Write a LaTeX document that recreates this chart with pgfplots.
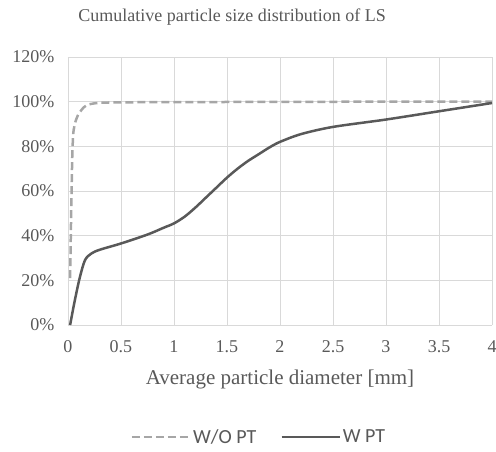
\documentclass[border=0pt]{standalone}
\usepackage{pgfplots}
\pgfplotsset{compat=1.18}
\usepackage{fontspec}
\setmainfont{Liberation Serif}
\newfontfamily\legfont{Carlito}
\definecolor{txt}{HTML}{595959}
\definecolor{gridc}{HTML}{D9D9D9}
\definecolor{wo}{HTML}{A6A6A6}
\definecolor{wpt}{HTML}{595959}
\begin{document}
\begin{tikzpicture}
  \begin{axis}[
    name=ax,
    scale only axis,
    width=424pt, height=268pt,
    xmin=0, xmax=4, ymin=0, ymax=120,
    xtick={0,0.5,...,4},
    ytick={0,20,...,120},
    yticklabel={\pgfmathprintnumber{\tick}\%},
    xticklabel style={/pgf/number format/fixed, yshift=-12pt},
    yticklabel style={xshift=-10pt},
    /pgf/number format/assume math mode=true,
    tick label style={font=\fontsize{18}{20}\selectfont, text=txt},
    tick style={draw=none},
    grid=major,
    major grid style={gridc, line width=0.8pt},
    axis line style={draw=gridc, line width=0.8pt},
    axis lines*=left,
    xlabel={Average particle diameter [mm]},
    xlabel style={font=\fontsize{21}{23}\selectfont, text=txt,
      at={(axis description cs:0.5,-0.205)}, anchor=center},
    title={Cumulative particle size distribution of LS},
    every axis title shift/.style={yshift=0pt},
    title style={font=\fontsize{18}{20}\selectfont, text=txt,
      at={(axis description cs:0.387,1.125)}, anchor=center},
    legend style={draw=none, font=\legfont\fontsize{20}{22}\selectfont, text=txt,
      legend columns=2, at={(axis description cs:0.45,-0.418)}, anchor=center,
      /tikz/every even column/.append style={column sep=22pt}},
    legend image code/.code={\draw[#1] (0pt,0pt) -- (58pt,0pt);},
    clip=false,
  ]
    \addplot[wo, line width=2.5pt, dash pattern=on 8pt off 4pt, smooth, tension=0.4] coordinates {
      (0.02,21) (0.03,50) (0.04,75) (0.05,86) (0.07,91) (0.1,94.5) (0.15,97.5)
      (0.2,98.8) (0.3,99.5) (0.5,99.7) (1,99.8) (2,99.9) (3,100) (4,100)
    };
    \addlegendentry{W/O PT}
    \addplot[wpt, line width=2.5pt, smooth, tension=0.5] coordinates {
      (0.02,0) (0.06,10) (0.11,21) (0.16,29) (0.22,32) (0.3,33.7) (0.5,36.5)
      (0.75,40.5) (0.9,43.5) (1,45.5) (1.1,48.5) (1.2,52.5) (1.3,57) (1.4,61.5)
      (1.5,66) (1.6,70) (1.7,73.5) (1.8,76.5) (1.9,79.5) (2,82) (2.2,85.5)
      (2.5,88.7) (3,92) (3.5,95.7) (4,99.4)
    };
    \addlegendentry{W PT}
  \end{axis}
  \pgfresetboundingbox
  \path ([xshift=-68pt,yshift=-127pt]ax.south west) rectangle ([xshift=4pt,yshift=57pt]ax.north east);
\end{tikzpicture}
\end{document}
